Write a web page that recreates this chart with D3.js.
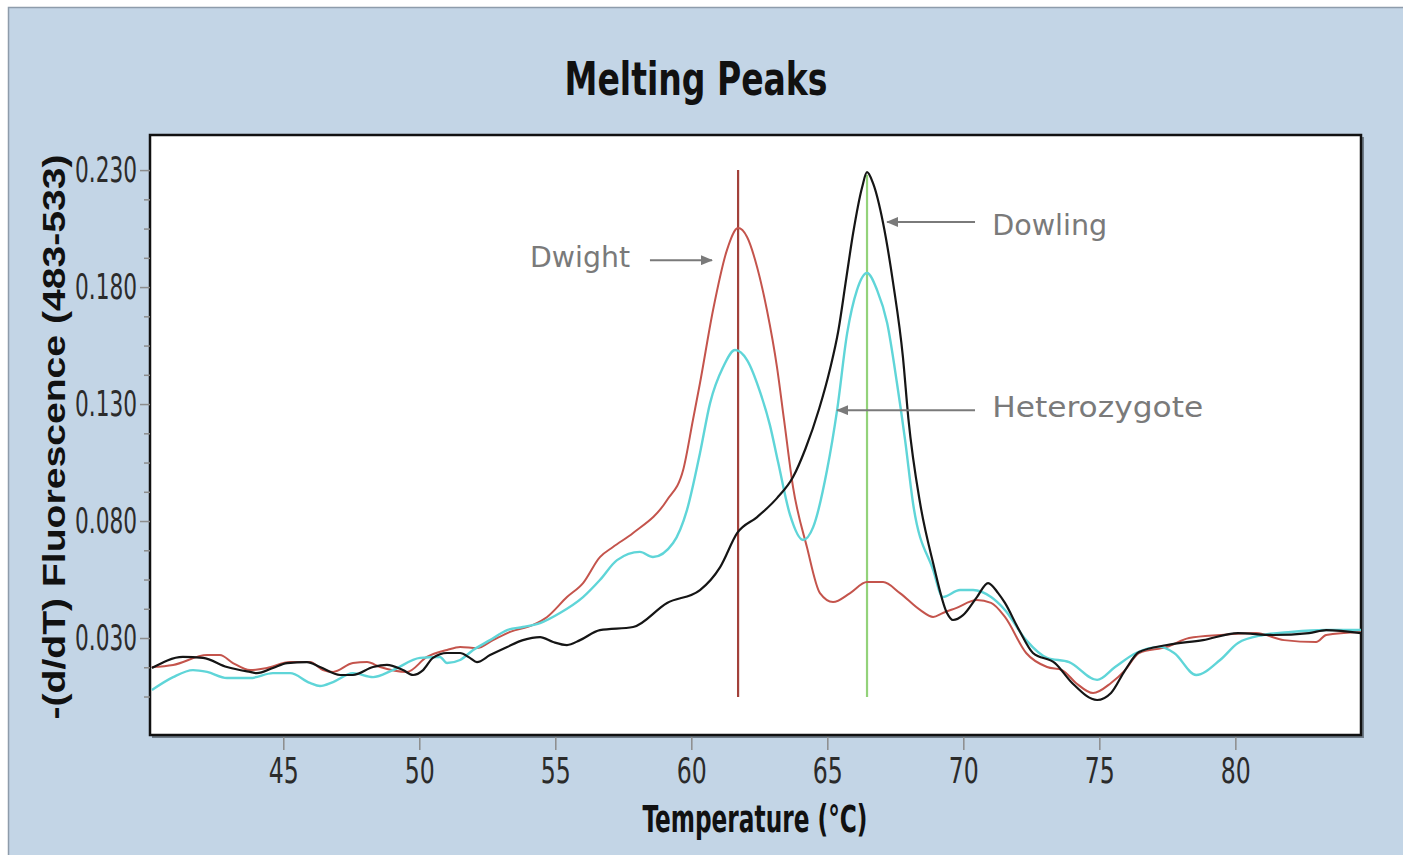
<!DOCTYPE html>
<html>
<head>
<meta charset="utf-8">
<script src="https://cdn.jsdelivr.net/npm/d3@7"></script>
<style>
  body { margin: 0; background: #fff; }
</style>
</head>
<body>
<svg id="chart" width="1403" height="855"></svg>
<script>
// --- chart data ---
const xTicks = [45, 50, 55, 60, 65, 70, 75, 80];
const yTicks = [0.030, 0.080, 0.130, 0.180, 0.230];
const yMinorTicks = [0.005, 0.0175, 0.0425, 0.055, 0.0675, 0.0925, 0.105, 0.1175,
  0.1425, 0.155, 0.1675, 0.1925, 0.205, 0.2175];

// [temperature °C, -(d/dT) fluorescence]
const dwight = [
  [40.17, 0.0176], [40.95, 0.0185], [42.20, 0.0227], [42.67, 0.0227], [43.15, 0.0193],
  [43.78, 0.0163], [44.40, 0.0172], [45.25, 0.0197], [45.98, 0.0197], [46.46, 0.0163],
  [46.83, 0.0155], [47.56, 0.0193], [48.08, 0.0197], [48.56, 0.0176], [49.55, 0.0155],
  [50.28, 0.0219], [51.02, 0.0249], [51.50, 0.0262], [52.12, 0.0257], [52.71, 0.0291],
  [53.34, 0.0326], [54.18, 0.0356], [54.70, 0.0390], [55.43, 0.0475], [56.02, 0.0535],
  [56.64, 0.0646], [57.12, 0.0689], [57.86, 0.0749], [59.11, 0.0890], [59.70, 0.1018],
  [60.06, 0.1232], [60.32, 0.1390], [60.80, 0.1702], [61.31, 0.1958], [61.72, 0.2052],
  [62.05, 0.2014], [62.42, 0.1885], [62.78, 0.1702], [63.15, 0.1458], [63.41, 0.1232],
  [63.74, 0.0945], [64.25, 0.0689], [64.73, 0.0492], [65.21, 0.0454], [65.84, 0.0492],
  [66.46, 0.0539], [67.05, 0.0539], [67.67, 0.0492], [68.41, 0.0420], [68.89, 0.0390],
  [69.25, 0.0407], [69.73, 0.0428], [70.50, 0.0462], [71.02, 0.0450], [71.53, 0.0390],
  [72.31, 0.0236], [73.08, 0.0176], [73.63, 0.0163], [74.14, 0.0108], [74.77, 0.0065],
  [75.43, 0.0108], [75.95, 0.0163], [76.46, 0.0236], [77.49, 0.0262], [78.30, 0.0300],
  [79.44, 0.0313], [80.76, 0.0321], [81.79, 0.0291], [82.97, 0.0283], [83.34, 0.0313],
  [84.62, 0.0326]
];

const dowling = [
  [40.17, 0.0172], [41.31, 0.0219], [42.05, 0.0215], [42.93, 0.0176], [43.78, 0.0155],
  [44.03, 0.0150], [44.62, 0.0172], [45.14, 0.0193], [45.87, 0.0197], [46.35, 0.0176],
  [47.09, 0.0142], [47.56, 0.0142], [48.30, 0.0176], [48.81, 0.0185], [49.40, 0.0163],
  [49.77, 0.0142], [50.14, 0.0163], [50.50, 0.0215], [51.02, 0.0236], [51.50, 0.0236],
  [51.86, 0.0215], [52.12, 0.0197], [52.60, 0.0227], [53.23, 0.0262], [53.81, 0.0291],
  [54.44, 0.0304], [54.92, 0.0283], [55.43, 0.0270], [55.91, 0.0291], [56.64, 0.0334],
  [57.86, 0.0347], [59.11, 0.0450], [60.32, 0.0505], [61.06, 0.0603], [61.69, 0.0749],
  [62.42, 0.0817], [63.15, 0.0898], [63.74, 0.0988], [64.20, 0.1110], [64.70, 0.1280],
  [65.10, 0.1450], [65.40, 0.1610], [65.70, 0.1840], [65.95, 0.2031], [66.28, 0.2227],
  [66.46, 0.2291], [66.68, 0.2244], [67.05, 0.2074], [67.42, 0.1817], [67.78, 0.1501],
  [67.98, 0.1238], [68.41, 0.0877], [68.89, 0.0621], [69.40, 0.0407], [69.62, 0.0377],
  [69.99, 0.0398], [70.50, 0.0475], [70.91, 0.0535], [71.28, 0.0492], [71.53, 0.0450],
  [72.05, 0.0334], [72.56, 0.0236], [73.37, 0.0193], [74.00, 0.0108], [74.92, 0.0035],
  [75.43, 0.0065], [75.95, 0.0163], [76.46, 0.0240], [77.49, 0.0270], [78.81, 0.0291],
  [80.10, 0.0321], [81.39, 0.0313], [82.71, 0.0321], [83.34, 0.0334], [84.62, 0.0321]
];

const heterozygote = [
  [40.17, 0.0078], [40.95, 0.0133], [41.68, 0.0163], [42.20, 0.0155], [42.93, 0.0129],
  [43.78, 0.0129], [44.62, 0.0150], [45.25, 0.0150], [45.98, 0.0108], [46.35, 0.0095],
  [46.83, 0.0112], [47.56, 0.0150], [48.30, 0.0133], [49.03, 0.0163], [50.03, 0.0215],
  [50.76, 0.0219], [51.02, 0.0193], [51.50, 0.0206], [51.98, 0.0249], [52.60, 0.0291],
  [53.23, 0.0334], [53.81, 0.0347], [54.44, 0.0364], [55.17, 0.0407], [56.02, 0.0475],
  [56.64, 0.0548], [57.27, 0.0633], [58.11, 0.0668], [58.59, 0.0646], [59.33, 0.0706],
  [59.84, 0.0847], [60.32, 0.1091], [60.69, 0.1304], [61.17, 0.1458], [61.61, 0.1531],
  [62.05, 0.1488], [62.53, 0.1351], [62.89, 0.1210], [63.19, 0.1052], [63.63, 0.0826],
  [64.11, 0.0719], [64.48, 0.0774], [64.99, 0.1018], [65.36, 0.1274], [65.73, 0.1603],
  [66.09, 0.1787], [66.46, 0.1860], [66.83, 0.1787], [67.20, 0.1646], [67.56, 0.1390],
  [67.86, 0.1146], [68.15, 0.0877], [68.89, 0.0591], [69.25, 0.0475], [69.88, 0.0505],
  [70.36, 0.0505], [71.02, 0.0475], [71.53, 0.0420], [72.31, 0.0291], [73.08, 0.0215],
  [73.89, 0.0197], [74.92, 0.0121], [75.58, 0.0176], [76.35, 0.0236], [77.23, 0.0262],
  [77.75, 0.0236], [78.56, 0.0142], [79.44, 0.0206], [80.10, 0.0279], [81.02, 0.0313],
  [82.05, 0.0326], [83.34, 0.0334], [84.62, 0.0334]
];

// peak markers (Tm lines)
const markers = [
  { temp: 61.72, top: 0.2300, bottom: 0.0048, color: "#a2413a" },
  { temp: 66.46, top: 0.2280, bottom: 0.0048, color: "#93d27a" }
];

// hand-written labels with arrows
const notes = [
  { text: "Dwight", tx: 54.07, ty: 0.1885, len: 100, from: 58.48, to: 60.76, ay: 0.1915 },
  { text: "Dowling", tx: 71.06, ty: 0.2022, len: 115, from: 70.43, to: 67.20, ay: 0.2078 },
  { text: "Heterozygote", tx: 71.06, ty: 0.1244, len: 211, from: 70.43, to: 65.36, ay: 0.1274 }
];

const narrow = '"Liberation Sans Narrow", "Arial Narrow", "DejaVu Sans Condensed", sans-serif';

const svg = d3.select("#chart");

// background panel
svg.append("rect")
  .attr("x", 8.5).attr("y", 7.5)
  .attr("width", 1420).attr("height", 880)
  .attr("fill", "#c3d5e6")
  .attr("stroke", "#8e9cab").attr("stroke-width", 1.5);

const x = d3.scaleLinear().domain([40.1, 84.62]).range([150, 1361]);
const y = d3.scaleLinear().domain([-0.01145, 0.2450]).range([735, 135]);

// plot box with a faint shadow
svg.append("rect")
  .attr("x", 152).attr("y", 137)
  .attr("width", 1212).attr("height", 601)
  .attr("fill", "#6f7c88");
svg.append("rect")
  .attr("x", 150).attr("y", 135)
  .attr("width", 1211).attr("height", 600)
  .attr("fill", "#fff")
  .attr("stroke", "#111").attr("stroke-width", 2.5);

// axes
const xAxis = svg.append("g")
  .attr("transform", "translate(0,737)")
  .call(d3.axisBottom(x).tickValues(xTicks).tickSize(13).tickPadding(7).tickFormat(d3.format("d")));
xAxis.select(".domain").remove();
xAxis.selectAll("line").attr("stroke", "#8c8c8c").attr("stroke-width", 1.5);
xAxis.selectAll("text")
  .attr("fill", "#2b2b2b")
  .style("font-family", narrow).style("font-size", "36px")
  .attr("textLength", 30).attr("lengthAdjust", "spacingAndGlyphs");

const yMinor = svg.append("g")
  .attr("transform", "translate(150,0)")
  .call(d3.axisLeft(y).tickValues(yMinorTicks).tickSize(6).tickFormat(""));
yMinor.select(".domain").remove();
yMinor.selectAll("line").attr("stroke", "#8c8c8c").attr("stroke-width", 1.5);

const yAxis = svg.append("g")
  .attr("transform", "translate(150,0)")
  .call(d3.axisLeft(y).tickValues(yTicks).tickSize(10).tickPadding(3).tickFormat(d3.format(".3f")));
yAxis.select(".domain").remove();
yAxis.selectAll("line").attr("stroke", "#8c8c8c").attr("stroke-width", 1.5);
yAxis.selectAll("text")
  .attr("fill", "#2b2b2b")
  .style("font-family", narrow).style("font-size", "36px")
  .attr("textLength", 62).attr("lengthAdjust", "spacingAndGlyphs");

// Tm marker lines
svg.append("g").selectAll("line")
  .data(markers)
  .enter()
  .append("line")
  .attr("x1", d => x(d.temp)).attr("x2", d => x(d.temp))
  .attr("y1", d => y(d.top)).attr("y2", d => y(d.bottom))
  .attr("stroke", d => d.color)
  .attr("stroke-width", 2.2);

// melting curves
const line = d3.line()
  .x(d => x(d[0]))
  .y(d => y(d[1]))
  .curve(d3.curveMonotoneX);

const series = [
  { data: dwight, color: "#c4544c", width: 2 },
  { data: heterozygote, color: "#5fd5d8", width: 2.4 },
  { data: dowling, color: "#151515", width: 2.2 }
];

svg.append("g").selectAll("path")
  .data(series)
  .enter()
  .append("path")
  .attr("d", d => line(d.data))
  .attr("fill", "none")
  .attr("stroke", d => d.color)
  .attr("stroke-width", d => d.width)
  .attr("stroke-linejoin", "round");

// arrow head
svg.append("defs").append("marker")
  .attr("id", "arrow")
  .attr("viewBox", "0 0 12 10")
  .attr("refX", 11).attr("refY", 5)
  .attr("markerWidth", 12).attr("markerHeight", 10)
  .attr("markerUnits", "userSpaceOnUse")
  .attr("orient", "auto")
  .append("path")
  .attr("d", "M0,0 L12,5 L0,10 Z")
  .attr("fill", "#7a7a7a");

const noteG = svg.append("g");
noteG.selectAll("line")
  .data(notes)
  .enter()
  .append("line")
  .attr("x1", d => x(d.from)).attr("x2", d => x(d.to))
  .attr("y1", d => y(d.ay)).attr("y2", d => y(d.ay))
  .attr("stroke", "#7a7a7a").attr("stroke-width", 2)
  .attr("marker-end", "url(#arrow)");

noteG.selectAll("text")
  .data(notes)
  .enter()
  .append("text")
  .attr("x", d => x(d.tx)).attr("y", d => y(d.ty))
  .attr("textLength", d => d.len).attr("lengthAdjust", "spacingAndGlyphs")
  .attr("fill", "#7a7a7a")
  .style("font-family", '"DejaVu Sans", sans-serif')
  .style("font-size", "29px")
  .text(d => d.text);

// titles
svg.append("text")
  .attr("x", 696).attr("y", 95)
  .attr("text-anchor", "middle")
  .attr("textLength", 263).attr("lengthAdjust", "spacingAndGlyphs")
  .style("font-family", narrow).style("font-size", "46px").style("font-weight", "bold")
  .attr("fill", "#111")
  .text("Melting Peaks");

svg.append("text")
  .attr("x", 755).attr("y", 832)
  .attr("text-anchor", "middle")
  .attr("textLength", 225).attr("lengthAdjust", "spacingAndGlyphs")
  .style("font-family", narrow).style("font-size", "37px").style("font-weight", "bold")
  .attr("fill", "#111")
  .text("Temperature (°C)");

svg.append("text")
  .attr("transform", "translate(65,437) rotate(-90)")
  .attr("text-anchor", "middle")
  .attr("textLength", 565).attr("lengthAdjust", "spacingAndGlyphs")
  .style("font-family", '"Liberation Sans", Arial, sans-serif').style("font-size", "31px").style("font-weight", "bold")
  .attr("fill", "#111")
  .text("-(d/dT) Fluorescence (483-533)");
</script>
</body>
</html>
